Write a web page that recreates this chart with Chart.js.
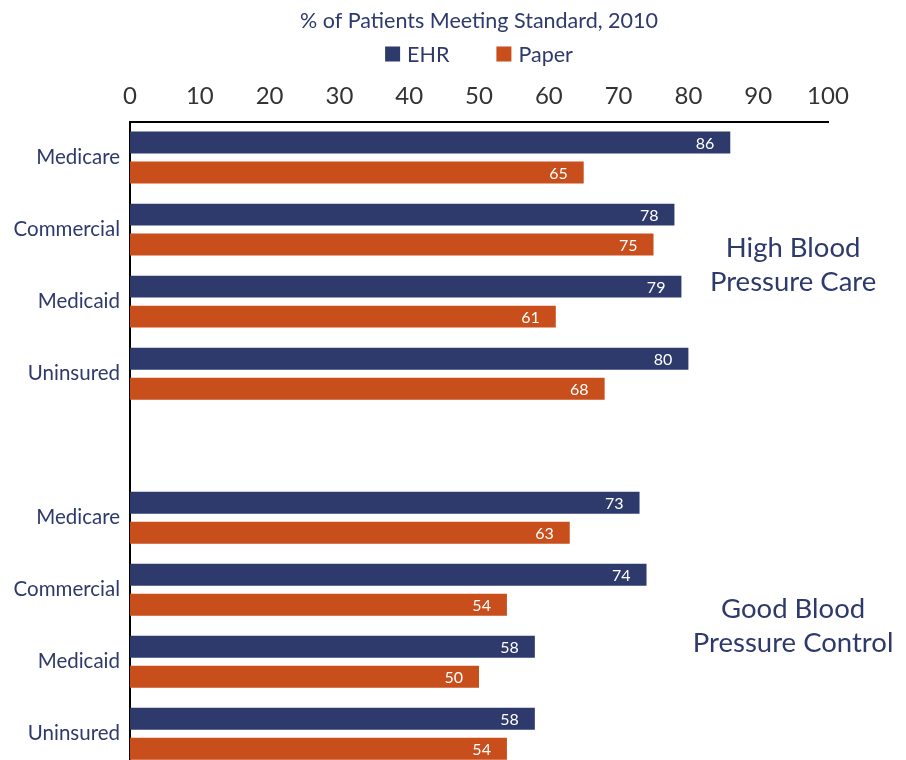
<!DOCTYPE html>
<html lang="en">
<head>
<meta charset="UTF-8">
<title>% of Patients Meeting Standard, 2010</title>
<script src="https://cdn.jsdelivr.net/npm/chart.js"></script>
<style>
  html, body { margin: 0; padding: 0; overflow: hidden; background: #fff; }
  #wrap { width: 906px; height: 784px; position: relative; }
</style>
</head>
<body>
<div id="wrap"><canvas id="bpChart"></canvas></div>
<script>
// payer groups, blank entry separates the two measures
const categories = ['Medicare', 'Commercial', 'Medicaid', 'Uninsured', '', 'Medicare', 'Commercial', 'Medicaid', 'Uninsured'];
const ehrValues = [86, 78, 79, 80, null, 73, 74, 58, 58];
const paperValues = [65, 75, 61, 68, null, 63, 54, 50, 54];
const measureNames = [['High Blood', 'Pressure Care'], ['Good Blood', 'Pressure Control']];

const NAVY = '#2e3a6c';
const ORANGE = '#c84e1b';
const FONT = 'Lato, "Open Sans", sans-serif';

// white value text at the inner end of each bar
const valueLabels = {
  id: 'valueLabels',
  afterDatasetsDraw(chart) {
    const ctx = chart.ctx;
    ctx.save();
    ctx.font = '16px ' + FONT;
    ctx.fillStyle = '#fff';
    ctx.textAlign = 'right';
    ctx.textBaseline = 'middle';
    chart.data.datasets.forEach((ds, i) => {
      chart.getDatasetMeta(i).data.forEach((bar, j) => {
        if (ds.data[j] == null) return;
        ctx.fillText(ds.data[j], bar.x - 16, bar.y + 1);
      });
    });
    ctx.restore();
  }
};

// measure names at the right side of each group
const groupTitles = {
  id: 'groupTitles',
  afterDraw(chart) {
    const ctx = chart.ctx;
    const x = chart.scales.x.getPixelForValue(95);
    const spots = [1.5, 6.5];
    ctx.save();
    ctx.font = '27.5px ' + FONT;
    ctx.fillStyle = NAVY;
    ctx.textAlign = 'center';
    ctx.textBaseline = 'middle';
    spots.forEach((idx, k) => {
      const y = chart.scales.y.getPixelForValue(idx);
      ctx.fillText(measureNames[k][0], x, y - 17);
      ctx.fillText(measureNames[k][1], x, y + 17);
    });
    ctx.restore();
  }
};

// legend row under the title: square swatch + series name
const seriesKey = {
  id: 'seriesKey',
  afterDraw(chart) {
    const ctx = chart.ctx;
    const box = 15, gap = 7, itemGap = 47, y = 54;
    ctx.save();
    ctx.font = '21.5px ' + FONT;
    ctx.textBaseline = 'middle';
    const items = chart.data.datasets.map(ds => ({
      text: ds.label, color: ds.backgroundColor, w: ctx.measureText(ds.label).width
    }));
    let total = items.reduce((s, it) => s + box + gap + it.w, 0) + itemGap * (items.length - 1);
    let x = (chart.chartArea.left + chart.chartArea.right) / 2 - total / 2;
    items.forEach(it => {
      ctx.fillStyle = it.color;
      ctx.fillRect(x, y - box / 2, box, box);
      ctx.fillStyle = NAVY;
      ctx.fillText(it.text, x + box + gap, y + 1);
      x += box + gap + it.w + itemGap;
    });
    ctx.restore();
  }
};

new Chart(document.getElementById('bpChart'), {
  type: 'bar',
  data: {
    labels: categories,
    datasets: [
      { label: 'EHR', data: ehrValues, backgroundColor: NAVY },
      { label: 'Paper', data: paperValues, backgroundColor: ORANGE }
    ]
  },
  options: {
    indexAxis: 'y',
    responsive: true,
    maintainAspectRatio: false,
    animation: false,
    categoryPercentage: 0.833,
    barPercentage: 0.733,
    layout: { padding: { top: 0, right: 78, bottom: 0, left: 0 } },
    scales: {
      x: {
        position: 'top',
        min: 0,
        max: 100,
        ticks: { stepSize: 10, color: '#333', padding: 3, font: { family: FONT, size: 24 } },
        grid: { display: false },
        border: { display: true, color: '#000', width: 2 }
      },
      y: {
        ticks: { color: NAVY, padding: 2, font: { family: FONT, size: 20.5 } },
        grid: { display: false },
        border: { display: true, color: '#000', width: 2 },
        afterFit(scale) { scale.width = 130; }
      }
    },
    plugins: {
      title: {
        display: true,
        fullSize: false,
        text: '% of Patients Meeting Standard, 2010',
        color: NAVY,
        font: { family: FONT, size: 21.5, weight: 'normal' },
        padding: { top: 8, bottom: 45 }
      },
      legend: { display: false },
      tooltip: { enabled: false }
    }
  },
  plugins: [valueLabels, groupTitles, seriesKey]
});
</script>
</body>
</html>
